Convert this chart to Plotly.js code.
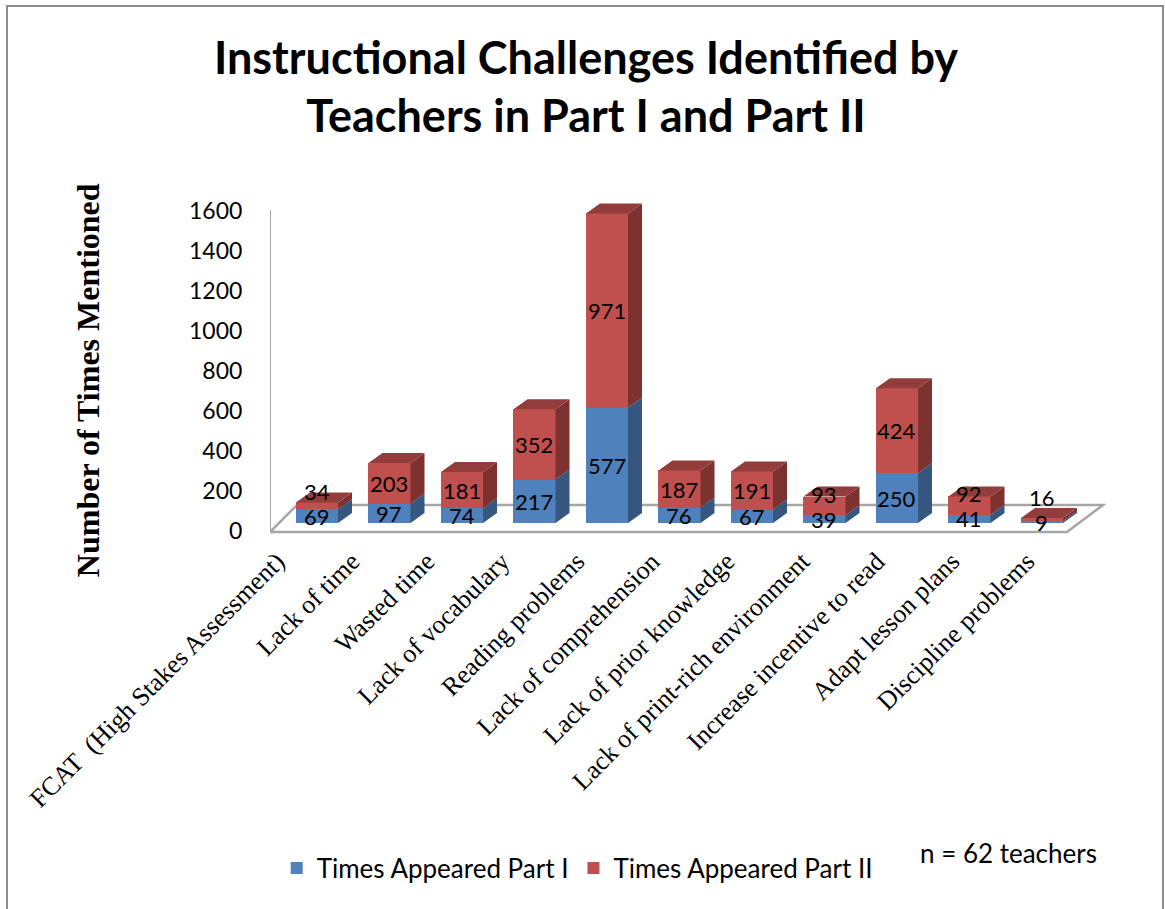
<!DOCTYPE html>
<html>
<head>
<meta charset="utf-8">
<script src="https://cdn.plot.ly/plotly-3.0.1.min.js"></script>
<style>
  html, body { margin: 0; padding: 0; background: #fff; overflow: hidden; }
  #chart { position: absolute; left: 0; top: 0; width: 1165px; height: 909px; }
  #frame { position: absolute; left: 6px; top: 5px; width: 1158px; height: 930px;
           box-sizing: border-box; border: 2px solid #8c8c8c; border-bottom: none; pointer-events: none; }
</style>
</head>
<body>
<div id="chart"></div>
<div id="frame"></div>
<script>
// ---- data ----
const categories = [
  "FCAT  (High Stakes Assessment)",
  "Lack of time",
  "Wasted time",
  "Lack of vocabulary",
  "Reading problems",
  "Lack of comprehension",
  "Lack of prior knowledge",
  "Lack of print-rich environment",
  "Increase incentive to read",
  "Adapt lesson plans",
  "Discipline problems"
];
const partI  = [69, 97, 74, 217, 577, 76, 67, 39, 250, 41, 9];
const partII = [34, 203, 181, 352, 971, 187, 191, 93, 424, 92, 16];
const seriesNames = ["Times Appeared Part I", "Times Appeared Part II"];
const yTicks = [0, 200, 400, 600, 800, 1000, 1200, 1400, 1600];

// ---- style ----
const BLUE = "#4f81bd", BLUE_SIDE = "#36577f";
const RED = "#c0504d", RED_SIDE = "#7e3230", RED_TOP = "#923d3b";
const W = 0.58;        // bar width (category units)
const DX = 0.193;      // 3D depth offset x (category units)
const DY = 50;         // 3D depth offset y (value units)
const LABEL_UNITS = 110; // approx label height in value units

const idx = categories.map((_, i) => i);

function sidePoly(color, lo, hi) {
  const xs = [], ys = [];
  idx.forEach(i => {
    const a = lo[i], b = hi[i];
    const xr = i + W / 2;
    xs.push(xr, xr + DX, xr + DX, xr, xr, null);
    ys.push(a, a + DY, b + DY, b, a, null);
  });
  return { type: "scatter", mode: "lines", x: xs, y: ys, fill: "toself", fillcolor: color,
           line: { width: 0, color: color }, hoverinfo: "skip", showlegend: false, connectgaps: false };
}
function topPoly(color, top) {
  const xs = [], ys = [];
  idx.forEach(i => {
    const t = top[i];
    const xl = i - W / 2, xr = i + W / 2;
    xs.push(xl, xl + DX, xr + DX, xr, xl, null);
    ys.push(t, t + DY, t + DY, t, t, null);
  });
  return { type: "scatter", mode: "lines", x: xs, y: ys, fill: "toself", fillcolor: color,
           line: { width: 0, color: color }, hoverinfo: "skip", showlegend: false, connectgaps: false };
}

const zeros = idx.map(() => 0);
const totals = idx.map(i => partI[i] + partII[i]);

const traces = [
  { type: "bar", name: seriesNames[0], x: idx, y: partI, width: W, marker: { color: BLUE, line: { width: 0 } }, hoverinfo: "y" },
  { type: "bar", name: seriesNames[1], x: idx, y: partII, width: W, marker: { color: RED, line: { width: 0 } }, hoverinfo: "y" },
  sidePoly(BLUE_SIDE, zeros, partI),
  sidePoly(RED_SIDE, partI, totals),
  topPoly(RED_TOP, totals),
  { type: "scatter", mode: "markers", x: [0], y: [0], xaxis: "x2", yaxis: "y2", marker: { opacity: 0 }, hoverinfo: "skip", showlegend: false }
];

const LABEL_FONT = { family: "Lato, sans-serif", size: 22, color: "#000" };
const annotations = [];
idx.forEach(i => {
  annotations.push({ x: i, y: partI[i] / 2, xref: "x", yref: "y", text: String(partI[i]), showarrow: false,
                     xanchor: "center", yanchor: "middle", font: LABEL_FONT });
  let y2 = partI[i] + partII[i] / 2;
  if (partII[i] < LABEL_UNITS) y2 = Math.max(totals[i], partI[i] / 2 + 125);
  annotations.push({ x: i, y: y2, xref: "x", yref: "y", text: String(partII[i]), showarrow: false,
                     xanchor: "center", yanchor: "middle", font: LABEL_FONT });
});
annotations.push({ x: -0.2167, y: 0.47, xref: "paper", yref: "paper", text: "Number of Times Mentioned", textangle: -90,
                   xanchor: "center", yanchor: "middle", showarrow: false,
                   font: { family: "Liberation Serif, serif", size: 32, color: "#000", weight: "bold" } });
annotations.push({ x: 0.879, y: -0.92, xref: "paper", yref: "paper", text: "n = 62 teachers", showarrow: false,
                   xanchor: "center", yanchor: "middle",
                   font: { family: "Lato, sans-serif", size: 26, color: "#000" } });

const XR = [-0.648, 10.938];
const XR_LABELS = [-0.093, 11.107];
const YR = [-85, 1615];
const layout = {
  width: 1165, height: 909,
  margin: { l: 270, r: 55, t: 200, b: 369 },
  paper_bgcolor: "#fff", plot_bgcolor: "rgba(0,0,0,0)",
  barmode: "stack", bargap: 0,
  title: { text: "Instructional Challenges Identified by<br>Teachers in Part I and Part II",
           x: 0.503, xref: "container", y: 0.919, yref: "container", xanchor: "center", yanchor: "middle",
           font: { family: "Lato, sans-serif", size: 45, color: "#000", weight: "bold" } },
  xaxis: { range: XR, showgrid: false, zeroline: false, showline: false, showticklabels: false, ticks: "", fixedrange: true },
  xaxis2: { range: XR_LABELS, overlaying: "x", anchor: "y", side: "bottom", showgrid: false, zeroline: false, showline: false,
            tickmode: "array", tickvals: idx, ticktext: categories,
            tickangle: -45, ticks: "",
            tickfont: { family: "Liberation Serif, serif", size: 26, color: "#000" }, fixedrange: true },
  yaxis: { range: YR, showgrid: false, zeroline: false, showline: false, showticklabels: false, fixedrange: true },
  yaxis2: { range: [YR[0] + 40, YR[1] + 40], overlaying: "y", side: "left", showgrid: false, zeroline: false,
            showline: false, tickmode: "array", tickvals: yTicks, ticks: "outside", ticklen: 22,
            tickcolor: "rgba(0,0,0,0)", tickfont: { family: "Lato, sans-serif", size: 23, color: "#000" }, fixedrange: true },
  showlegend: true,
  legend: { orientation: "h", x: 0.008, y: -0.965, xanchor: "left", yanchor: "middle",
            font: { family: "Lato, sans-serif", size: 26, color: "#000" }, traceorder: "normal", itemclick: false },
  annotations: annotations,
  shapes: [
    { type: "path", xref: "x", yref: "y", layer: "below",
      path: "M -0.648 -45 L -0.276 90 L 10.841 90 L 10.345 -45 Z",
      fillcolor: "#fff", line: { color: "#a6a6a6", width: 2.5 } },
    { type: "line", xref: "x", yref: "y", layer: "below", x0: -0.648, x1: -0.648, y0: -45, y1: 1565,
      line: { color: "#a6a6a6", width: 2 } }
  ]
};

Plotly.newPlot("chart", traces, layout, { displayModeBar: false, staticPlot: true });
</script>
</body>
</html>
